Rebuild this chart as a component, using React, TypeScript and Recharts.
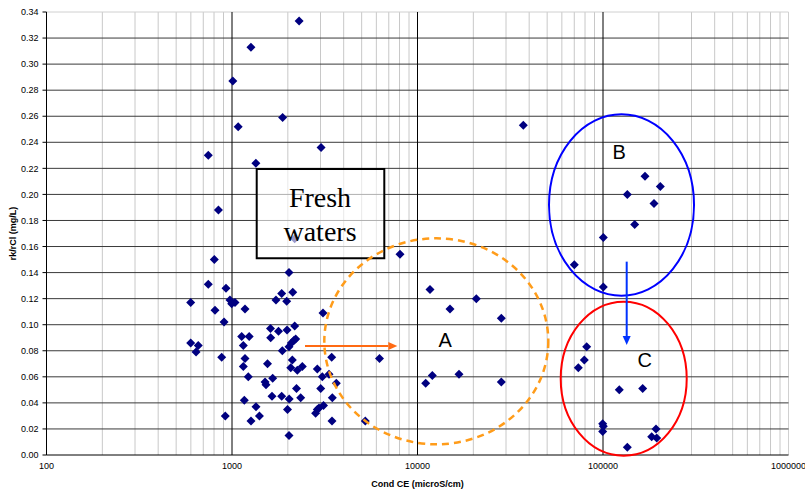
import React from 'react';
import {
  ScatterChart,
  Scatter,
  XAxis,
  YAxis,
  ReferenceLine,
  ReferenceArea,
  ReferenceDot,
} from 'recharts';

// Cond CE (microS/cm) and rk/rCl (mg/L)
const condCE = [
  2300, 1265, 1010, 1080, 1875, 745, 3020, 1345, 845, 803,
  745, 928, 599, 975, 996, 1038, 1175, 810, 906, 1128,
  1238, 1151, 599, 658, 640, 880, 1175, 1151, 1224, 1165,
  1347, 1406, 920, 1266, 1554, 1507, 1525, 1657, 1643, 1853,
  2034, 1991, 2029, 1613, 1617, 1781, 1980, 2178, 1867, 2029,
  2088, 2160, 2205, 2114, 2073, 2249, 2393, 2227, 2346, 2029,
  1853, 1726, 1972, 2125, 2178, 3095, 3447, 2884, 3068, 3334,
  3650, 3008, 3473, 2824, 2884, 2944, 3114, 3461, 5230, 6240,
  8050, 11680, 14970, 20750, 28300, 11070, 12020, 16740, 28300, 37190,
  168400, 203700, 135200, 188300, 148200, 100400, 70030,
  100400, 81690, 79300, 73600, 122400, 163700, 99600, 100400, 99600,
  135200, 193100, 183000, 194800,
];
const rkRCl = [
  0.333, 0.313, 0.287, 0.252, 0.259, 0.230, 0.236, 0.224, 0.188, 0.150,
  0.131, 0.128, 0.117, 0.119, 0.116, 0.117, 0.112, 0.111, 0.102, 0.091,
  0.091, 0.084, 0.086, 0.084, 0.079, 0.075, 0.074, 0.068, 0.060, 0.042,
  0.037, 0.030, 0.030, 0.026, 0.070, 0.056, 0.054, 0.059, 0.045, 0.045,
  0.043, 0.035, 0.015, 0.097, 0.090, 0.095, 0.096, 0.099, 0.080, 0.083,
  0.086, 0.088, 0.089, 0.073, 0.067, 0.065, 0.068, 0.051, 0.044, 0.140,
  0.124, 0.119, 0.118, 0.125, 0.166, 0.109, 0.075, 0.066, 0.060, 0.062,
  0.055, 0.051, 0.044, 0.032, 0.035, 0.036, 0.038, 0.026, 0.026, 0.074,
  0.154, 0.127, 0.112, 0.120, 0.105, 0.055, 0.061, 0.062, 0.056, 0.253,
  0.214, 0.206, 0.200, 0.193, 0.177, 0.167, 0.146,
  0.129, 0.083, 0.073, 0.067, 0.050, 0.051, 0.024, 0.022, 0.018,
  0.006, 0.020, 0.014, 0.013,
];

const xTicks = [100, 1000, 10000, 100000, 1000000];
const yTicks = [
  0, 0.02, 0.04, 0.06, 0.08, 0.1, 0.12, 0.14, 0.16, 0.18,
  0.2, 0.22, 0.24, 0.26, 0.28, 0.3, 0.32, 0.34,
];

const points = condCE.map((x, i) => ({ x, y: rkRCl[i] }));

// minor log gridlines 200..900 in every decade
const minorX: number[] = [];
[100, 1000, 10000, 100000].forEach((d) => {
  for (let m = 2; m <= 9; m++) minorX.push(m * d);
});
const decadeX = [1000, 10000, 100000];
const innerY = yTicks.slice(1, -1);

const sans = 'Liberation Sans, Arial, sans-serif';
const serif = 'Liberation Serif, Times New Roman, serif';

const Diamond = (props: any) => {
  const { cx, cy } = props;
  if (cx == null || cy == null) return null;
  const r = 4.5;
  return (
    <polygon
      points={`${cx},${cy - r} ${cx + r},${cy} ${cx},${cy + r} ${cx - r},${cy}`}
      fill="#000080"
    />
  );
};

const ellipseShape = (stroke: string, width: number, dash?: string) => (p: any) => (
  <ellipse
    cx={p.x + p.width / 2}
    cy={p.y + p.height / 2}
    rx={Math.abs(p.width) / 2}
    ry={Math.abs(p.height) / 2}
    fill="none"
    stroke={stroke}
    strokeWidth={width}
    strokeDasharray={dash}
  />
);

const boxShape = (p: any) => (
  <rect
    x={p.x}
    y={p.y}
    width={p.width}
    height={p.height}
    fill="#ffffff"
    fillOpacity={0.6}
    stroke="#000"
    strokeWidth={2}
  />
);

const arrowShape = (color: string) => (p: any) => {
  const { x1, y1, x2, y2 } = p;
  const a = Math.atan2(y2 - y1, x2 - x1);
  const len = 9;
  const half = 4;
  const bx = x2 - len * Math.cos(a);
  const by = y2 - len * Math.sin(a);
  const px = -Math.sin(a) * half;
  const py = Math.cos(a) * half;
  return (
    <g>
      <line x1={x1} y1={y1} x2={bx} y2={by} stroke={color} strokeWidth={2} />
      <polygon points={`${x2},${y2} ${bx + px},${by + py} ${bx - px},${by - py}`} fill={color} />
    </g>
  );
};

const textShape = (txt: string, size: number, family: string) => (p: any) => (
  <text x={p.cx} y={p.cy} textAnchor="middle" fontSize={size} fontFamily={family} fill="#000">
    {txt}
  </text>
);

const App = () => {
  return (
    <div style={{ position: 'absolute', left: 0, top: 0, width: 805, height: 492, background: '#fff' }}>
      <ScatterChart width={805} height={492} margin={{ top: 12, right: 16.5, bottom: 0, left: 0 }}>
        {minorX.map((v) => (
          <ReferenceLine key={'m' + v} x={v} stroke="#c8c8c8" strokeWidth={1} />
        ))}
        <ReferenceLine x={1000000} stroke="#d0d0d0" />
        <ReferenceLine y={0.34} stroke="#d0d0d0" />
        {innerY.map((v) => (
          <ReferenceLine key={'h' + v} y={v} stroke="#3a3a3a" strokeWidth={1} />
        ))}
        {decadeX.map((v) => (
          <ReferenceLine key={'d' + v} x={v} stroke="#000" strokeWidth={1} />
        ))}
        <XAxis
          type="number"
          dataKey="x"
          scale="log"
          domain={[100, 1000000]}
          ticks={xTicks}
          interval={0}
          allowDataOverflow
          height={37}
          tickLine={false}
          tickSize={6}
          tickMargin={2}
          axisLine={{ stroke: '#000' }}
          tick={{ fontSize: 9, fill: '#000', fontFamily: sans }}
          tickFormatter={(v: number) => String(v)}
          label={{
            content: (p: any) => {
              const vb = p.viewBox;
              return (
                <text
                  x={vb.x + vb.width / 2}
                  y={vb.y + vb.height - 5}
                  textAnchor="middle"
                  fontSize={9}
                  fontWeight="bold"
                  fontFamily={sans}
                  fill="#000"
                >
                  Cond CE (microS/cm)
                </text>
              );
            },
          }}
        />
        <YAxis
          type="number"
          dataKey="y"
          domain={[0, 0.34]}
          ticks={yTicks}
          interval={0}
          width={46.5}
          tickSize={4}
          tickMargin={4}
          axisLine={{ stroke: '#000' }}
          tickLine={{ stroke: '#000' }}
          tick={{ fontSize: 9, fill: '#000', fontFamily: sans }}
          tickFormatter={(v: number) => v.toFixed(2)}
          label={{
            content: (p: any) => {
              const vb = p.viewBox;
              const cx = vb.x + 13;
              const cy = vb.y + vb.height / 2;
              return (
                <text
                  x={cx}
                  y={cy}
                  transform={`rotate(-90 ${cx} ${cy})`}
                  textAnchor="middle"
                  dominantBaseline="central"
                  fontSize={9}
                  fontWeight="bold"
                  fontFamily={sans}
                  fill="#000"
                >
                  rk/rCl (mg/L)
                </text>
              );
            },
          }}
        />
        <Scatter data={points} shape={Diamond} isAnimationActive={false} />

        <ReferenceArea x1={1359} x2={6622} y1={0.151} y2={0.2195} shape={boxShape} ifOverflow="visible" zIndex={700} />
        <ReferenceDot x={2981} y={0.1906} shape={textShape('Fresh', 28, serif)} ifOverflow="visible" zIndex={710} />
        <ReferenceDot x={2981} y={0.1642} shape={textShape('waters', 28, serif)} ifOverflow="visible" zIndex={710} />

        <ReferenceArea x1={3145} x2={50720} y1={0.0082} y2={0.1663} shape={ellipseShape('#ff9c1a', 2.5, '7 5')} ifOverflow="visible" zIndex={700} />
        <ReferenceArea x1={51160} x2={309500} y1={0.1223} y2={0.2615} shape={ellipseShape('#0000ff', 2)} ifOverflow="visible" zIndex={700} />
        <ReferenceArea x1={59160} x2={282700} y1={-0.0005} y2={0.1177} shape={ellipseShape('#ff0000', 2)} ifOverflow="visible" zIndex={700} />

        <ReferenceLine
          segment={[{ x: 2475, y: 0.0837 }, { x: 7782, y: 0.0837 }]}
          shape={arrowShape('#ff6a13')}
          ifOverflow="visible"
          zIndex={700}
        />
        <ReferenceLine
          segment={[{ x: 134200, y: 0.1484 }, { x: 134200, y: 0.0844 }]}
          shape={arrowShape('#0033ff')}
          ifOverflow="visible"
          zIndex={700}
        />

        <ReferenceDot x={14120} y={0.0831} shape={textShape('A', 20, sans)} ifOverflow="visible" zIndex={710} />
        <ReferenceDot x={122400} y={0.227} shape={textShape('B', 20, sans)} ifOverflow="visible" zIndex={710} />
        <ReferenceDot x={167800} y={0.0673} shape={textShape('C', 20, sans)} ifOverflow="visible" zIndex={710} />
      </ScatterChart>
    </div>
  );
};

export default App;
